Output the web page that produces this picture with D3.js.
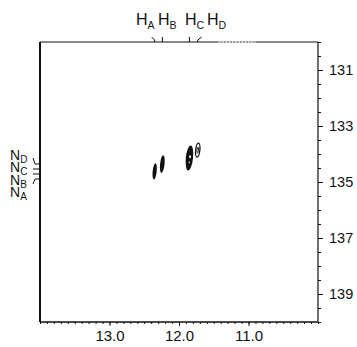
<!DOCTYPE html>
<html>
<head>
<meta charset="utf-8">
<script src="https://cdn.jsdelivr.net/npm/d3@7"></script>
<style>
  html, body { margin: 0; padding: 0; background: #fff; }
  svg { display: block; }
  text { font-family: "Liberation Sans", Arial, Helvetica, sans-serif; fill: #111; }
</style>
</head>
<body>
<svg id="chart" width="357" height="347"></svg>
<script>
// 1H (direct) and 15N (indirect) chemical shifts of the four cross peaks, ppm
const peakLabels = ["A", "B", "C", "D"];
const peakH = [12.35, 12.24, 11.85, 11.73];
const peakN = [134.62, 134.36, 134.14, 133.86];
// half line widths of each contour, ppm
const peakHWidth = [0.029, 0.032, 0.052, 0.03];
const peakNWidth = [0.29, 0.32, 0.45, 0.25];

// axis ticks
const hTickLabels = [13.0, 12.0, 11.0];
const nTickLabels = [131, 133, 135, 137, 139];

const svg = d3.select("#chart");

const x = d3.scaleLinear().domain([14, 10]).range([40, 318]);
const y = d3.scaleLinear().domain([130, 140]).range([42, 322]);

const ink = "#111";
const font = "'Liberation Sans', Arial, sans-serif";

// bottom axis: minor ticks every 0.1 ppm, labelled every 1.0 ppm
const hMinor = d3.range(100, 141).map(v => v / 10);
const gx = svg.append("g").attr("transform", `translate(0,${y(140)})`);
gx.call(d3.axisBottom(x).tickValues(hMinor).tickSize(2).tickFormat(""))
  .call(g => g.select(".domain").remove())
  .call(g => g.selectAll("line").attr("stroke", ink).attr("stroke-width", 1));
gx.append("g")
  .call(d3.axisBottom(x).tickValues(hTickLabels).tickSize(4).tickPadding(4).tickFormat(d3.format(".1f")))
  .call(g => g.select(".domain").remove())
  .call(g => g.selectAll("line").attr("stroke", ink))
  .call(g => g.selectAll("text").attr("font-size", 15).attr("fill", ink).style("font-family", font));

// right axis: minor ticks every 0.5 ppm, labelled at odd integers
const nMinor = d3.range(260, 281).map(v => v / 2);
const gy = svg.append("g").attr("transform", `translate(${x(10)},0)`);
gy.call(d3.axisRight(y).tickValues(nMinor).tickSize(3).tickFormat(""))
  .call(g => g.select(".domain").remove())
  .call(g => g.selectAll("line").attr("stroke", ink));
gy.append("g")
  .call(d3.axisRight(y).tickValues(nTickLabels).tickSize(5).tickPadding(6).tickFormat(d3.format("d")))
  .call(g => g.select(".domain").remove())
  .call(g => g.selectAll("line").attr("stroke", ink))
  .call(g => g.selectAll("text").attr("font-size", 14.5).attr("fill", ink).style("font-family", font));

// frame
const frame = svg.append("g").attr("fill", "none").attr("stroke", ink);
frame.append("line").attr("x1", x(14)).attr("x2", x(10)).attr("y1", y(130)).attr("y2", y(130)).attr("stroke-width", 1.1);
frame.append("line").attr("x1", x(14)).attr("x2", x(10)).attr("y1", y(140)).attr("y2", y(140)).attr("stroke-width", 1.4);
frame.append("line").attr("x1", x(10)).attr("x2", x(10)).attr("y1", y(130)).attr("y2", y(140)).attr("stroke-width", 1.2);
frame.append("line").attr("x1", x(14)).attr("x2", x(14)).attr("y1", y(130)).attr("y2", y(140)).attr("stroke-width", 2);
// faint dotted stretch of the 1H projection trace
svg.append("line").attr("x1", x(11.45)).attr("x2", x(10.9)).attr("y1", y(130)).attr("y2", y(130))
  .attr("stroke", "#fff").attr("stroke-width", 1.6);
svg.append("line").attr("x1", x(11.45)).attr("x2", x(10.9)).attr("y1", y(130)).attr("y2", y(130))
  .attr("stroke", "#555").attr("stroke-width", 1).attr("stroke-dasharray", "2,1.2");

// cross peaks
const peaks = peakLabels.map((k, i) => ({
  k, h: peakH[i], n: peakN[i], rh: peakHWidth[i], rn: peakNWidth[i]
}));
const pg = svg.append("g");
peaks.forEach(p => {
  const cx = x(p.h), cy = y(p.n);
  const rx = Math.abs(x(p.h + p.rh) - cx), ry = Math.abs(y(p.n + p.rn) - cy);
  const g = pg.append("g").attr("transform", `translate(${cx},${cy}) rotate(6)`);
  if (p.k === "D") {
    g.append("ellipse").attr("rx", rx).attr("ry", ry)
      .attr("fill", "#fff").attr("stroke", ink).attr("stroke-width", 1.3);
    g.append("ellipse").attr("rx", rx * 0.35).attr("ry", ry * 0.45)
      .attr("fill", "none").attr("stroke", ink).attr("stroke-width", 0.8);
  } else {
    g.append("ellipse").attr("rx", rx).attr("ry", ry).attr("fill", ink);
    if (p.k === "C") {
      g.append("ellipse").attr("cx", 0.5).attr("cy", -ry * 0.1).attr("rx", 0.9).attr("ry", 1.6).attr("fill", "#fff");
      g.append("ellipse").attr("cx", 0.3).attr("cy", ry * 0.35).attr("rx", 0.6).attr("ry", 0.9).attr("fill", "#fff");
    }
  }
});

// 1H assignment labels along the top edge with leader lines
const topY = y(130);
const hLabelX = { A: 136, B: 158, C: 185, D: 207 };
const hLeader = {
  A: p => `M${x(p.h) - 3},${topY - 5} L${x(p.h)},${topY - 2} L${x(p.h)},${topY}`,
  B: p => `M${x(p.h)},${topY - 5} L${x(p.h)},${topY}`,
  C: p => `M${x(p.h)},${topY - 5} L${x(p.h)},${topY}`,
  D: p => `M${x(p.h) + 4},${topY - 5} L${x(p.h)},${topY - 2} L${x(p.h)},${topY}`
};
const topLab = svg.append("g");
peaks.forEach(p => {
  topLab.append("path").attr("d", hLeader[p.k](p))
    .attr("fill", "none").attr("stroke", ink).attr("stroke-width", 1);
  const t = topLab.append("text").attr("x", hLabelX[p.k]).attr("y", 25)
    .attr("font-size", 16);
  t.append("tspan").text("H");
  t.append("tspan").attr("font-size", 10.5).attr("dy", 4).text(p.k);
});

// 15N assignment labels stacked along the left edge with leader lines
const leftX = x(14);
const nLabelY = { D: 159.5, C: 172, B: 184.5, A: 197 };
const nLeaderY = { D: 164, C: 169, B: 174, A: 179 };
const nLeader = {
  D: v => `M${leftX - 7},${v - 6} L${leftX - 5},${v} L${leftX},${v}`,
  C: v => `M${leftX - 7},${v} L${leftX},${v}`,
  B: v => `M${leftX - 7},${v} L${leftX},${v}`,
  A: v => `M${leftX - 7},${v + 5} L${leftX - 5},${v} L${leftX},${v}`
};
const leftLab = svg.append("g");
peaks.forEach(p => {
  leftLab.append("path").attr("d", nLeader[p.k](nLeaderY[p.k]))
    .attr("fill", "none").attr("stroke", ink).attr("stroke-width", 1);
  const t = leftLab.append("text").attr("x", 10).attr("y", nLabelY[p.k])
    .attr("font-size", 14);
  t.append("tspan").text("N");
  t.append("tspan").attr("font-size", 10).attr("dy", 3).text(p.k);
});
</script>
</body>
</html>
